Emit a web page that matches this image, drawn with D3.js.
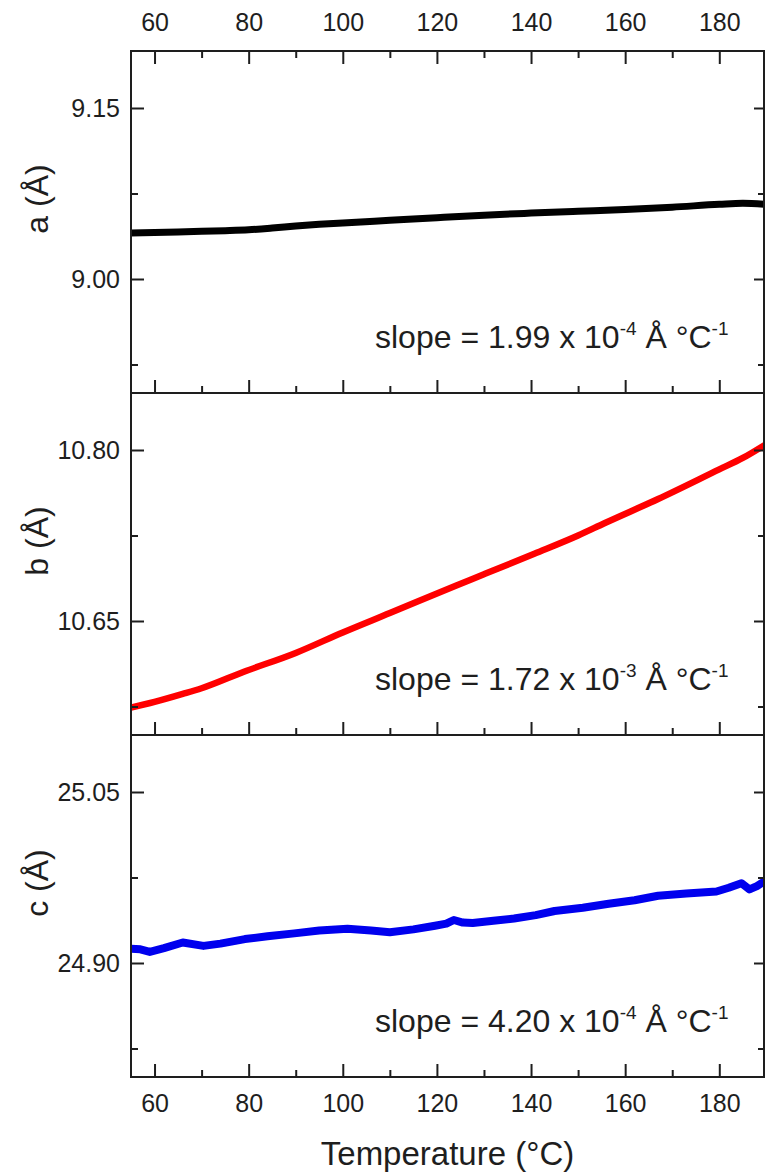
<!DOCTYPE html>
<html>
<head>
<meta charset="utf-8">
<script src="https://cdn.jsdelivr.net/npm/d3@7"></script>
<style>
  html, body { margin: 0; padding: 0; background: #fff; }
  text { font-family: "Liberation Sans", Arial, sans-serif; fill: #1e1e1e; }
</style>
</head>
<body>
<svg id="chart" width="766" height="1175"></svg>
<script>
// ---- data ----
const tempTicks = [60, 80, 100, 120, 140, 160, 180];
const tempMinorTicks = [70, 90, 110, 130, 150, 170];

const aTicks = [9.00, 9.15];
const aMinorTicks = [8.925, 9.075];
const bTicks = [10.65, 10.80];
const bMinorTicks = [10.575, 10.725];
const cTicks = [24.90, 25.05];
const cMinorTicks = [24.825, 24.975];

const tempA = [55, 60, 65, 70, 75, 80, 85, 90, 95, 100, 110, 120, 130, 140, 150, 160, 170, 180, 185, 189.5];
const valA  = [9.0403, 9.0408, 9.0413, 9.0418, 9.0424, 9.0432, 9.0447, 9.0465, 9.0480, 9.0492, 9.0515, 9.0538, 9.0560, 9.0578, 9.0594, 9.0610, 9.0630, 9.0655, 9.0664, 9.0655];

const tempB = [55, 60, 66, 70, 79, 90, 100, 110, 124, 130, 140.7, 150, 155.7, 167, 180, 185, 189.5];
const valB  = [10.574, 10.579, 10.586, 10.591, 10.6055, 10.622, 10.640, 10.657, 10.681, 10.691, 10.709, 10.725, 10.736, 10.757, 10.783, 10.793, 10.804];

const tempC = [55, 57, 59, 62, 66, 70.4, 74, 79.2, 84, 89.7, 95, 101, 106, 110, 115, 119.6, 122, 123.6, 125.5, 127.6, 132, 136.4, 141, 145, 151, 156.5, 162, 167, 173, 179.4, 182, 184.7, 186.4, 188, 189.5];
const valC  = [24.9126, 24.9120, 24.9097, 24.9130, 24.9180, 24.9150, 24.9170, 24.9210, 24.9235, 24.9260, 24.9285, 24.9300, 24.9285, 24.9270, 24.9295, 24.9327, 24.9345, 24.9377, 24.9355, 24.9350, 24.9370, 24.9390, 24.9420, 24.9456, 24.9485, 24.9520, 24.9550, 24.9590, 24.9610, 24.9627, 24.9660, 24.9700, 24.9645, 24.9675, 24.9715];

const panelNames = ["a (Å)", "b (Å)", "c (Å)"];
const slopeMantissa = ["1.99", "1.72", "4.20"];
const slopeExponent = ["-4", "-3", "-4"];
const xLabel = "Temperature (°C)";

// ---- layout ----
const svg = d3.select("#chart");
const left = 131, right = 764;
const panelTop = [51, 393, 735];
const panelH = 342;

const x = d3.scaleLinear().domain([55, 189.5]).range([left, right]);

const panels = [
  { t: tempA, v: valA, dom: [8.90, 9.20], ticks: aTicks, minor: aMinorTicks, color: "#000000", width: 7, curve: d3.curveMonotoneX },
  { t: tempB, v: valB, dom: [10.55, 10.85], ticks: bTicks, minor: bMinorTicks, color: "#ff0000", width: 6.5, curve: d3.curveMonotoneX },
  { t: tempC, v: valC, dom: [24.80, 25.10], ticks: cTicks, minor: cMinorTicks, color: "#0000ee", width: 8, curve: d3.curveLinear }
];

const fmt = d3.format(".2f");
const TICKFONT = "25px";

function styleAxis(sel) {
  sel.select(".domain").remove();
  sel.selectAll("line").attr("stroke", "#1e1e1e").attr("stroke-width", 2);
  sel.selectAll("text").style("font-size", TICKFONT)
    .style("font-family", "Liberation Sans, Arial, sans-serif").attr("fill", "#1e1e1e");
}

panels.forEach((p, i) => {
  const top = panelTop[i], bottom = top + panelH;
  const y = d3.scaleLinear().domain(p.dom).range([bottom, top]);
  const g = svg.append("g");

  const clipId = "clip" + i;
  svg.append("clipPath").attr("id", clipId)
    .append("rect").attr("x", left).attr("y", top).attr("width", right - left).attr("height", panelH);

  // data line
  const line = d3.line().curve(p.curve).x((d, k) => x(p.t[k])).y(d => y(d));
  g.append("path")
    .attr("clip-path", `url(#${clipId})`)
    .attr("d", line(p.v))
    .attr("fill", "none")
    .attr("stroke", p.color)
    .attr("stroke-width", p.width)
    .attr("stroke-linejoin", "round")
    .attr("stroke-linecap", "round");

  // left axis
  g.append("g").attr("transform", `translate(${left},0)`)
    .call(d3.axisLeft(y).tickValues(p.ticks).tickFormat(fmt).tickSize(-13).tickPadding(11)).call(styleAxis);
  g.append("g").attr("transform", `translate(${left},0)`)
    .call(d3.axisLeft(y).tickValues(p.minor).tickFormat("").tickSize(-7)).call(styleAxis);

  // right axis
  g.append("g").attr("transform", `translate(${right},0)`)
    .call(d3.axisRight(y).tickValues(p.ticks).tickFormat("").tickSize(-10)).call(styleAxis);
  g.append("g").attr("transform", `translate(${right},0)`)
    .call(d3.axisRight(y).tickValues(p.minor).tickFormat("").tickSize(-6)).call(styleAxis);

  // bottom ticks (inward)
  const isLast = i === panels.length - 1;
  g.append("g").attr("transform", `translate(0,${bottom})`)
    .call(d3.axisBottom(x).tickValues(tempTicks).tickFormat(isLast ? d3.format("d") : "").tickSize(-13).tickPadding(isLast ? 17 : 0)).call(styleAxis);
  g.append("g").attr("transform", `translate(0,${bottom})`)
    .call(d3.axisBottom(x).tickValues(tempMinorTicks).tickFormat("").tickSize(-7)).call(styleAxis);

  // top ticks only on first panel
  if (i === 0) {
    g.append("g").attr("transform", `translate(0,${top})`)
      .call(d3.axisTop(x).tickValues(tempTicks).tickFormat(d3.format("d")).tickSize(-13).tickPadding(20)).call(styleAxis);
    g.append("g").attr("transform", `translate(0,${top})`)
      .call(d3.axisTop(x).tickValues(tempMinorTicks).tickFormat("").tickSize(-7)).call(styleAxis);
  }

  // frame
  g.append("rect")
    .attr("x", left).attr("y", top).attr("width", right - left).attr("height", panelH)
    .attr("fill", "none").attr("stroke", "#1e1e1e").attr("stroke-width", 2);

  // y label
  const cy = (top + bottom) / 2 - 23;
  g.append("text")
    .attr("transform", `translate(48,${cy}) rotate(-90)`)
    .attr("text-anchor", "middle")
    .style("font-size", "32px")
    .text(panelNames[i]);

  // slope annotation
  const st = g.append("text")
    .attr("x", 375).attr("y", top + 297)
    .style("font-size", "32px");
  st.append("tspan").text(`slope = ${slopeMantissa[i]} x 10`);
  st.append("tspan").attr("dy", -13).style("font-size", "19px").text(slopeExponent[i]);
  st.append("tspan").attr("dy", 13).text(" Å °C");
  st.append("tspan").attr("dy", -13).style("font-size", "19px").text("-1");
});

// x axis title
svg.append("text")
  .attr("x", (left + right) / 2).attr("y", 1165)
  .attr("text-anchor", "middle")
  .style("font-size", "33px")
  .text(xLabel);
</script>
</body>
</html>
